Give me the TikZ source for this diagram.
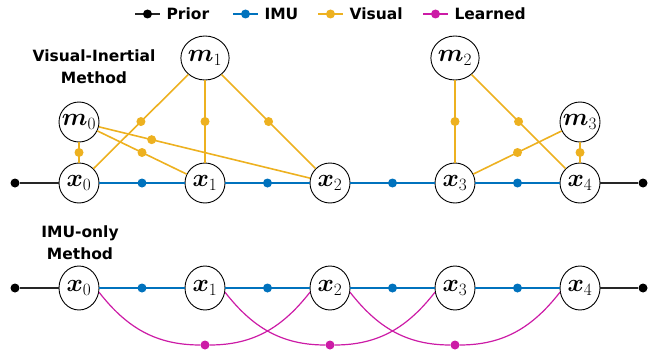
\documentclass[tikz,border=0pt]{standalone}
\usepackage{fontspec}
\setmainfont{DejaVu Sans}
\usepackage{amsmath}
\usepackage{bm}
\usetikzlibrary{shapes.geometric}
\definecolor{cimu}{HTML}{0072BD}
\definecolor{cvis}{HTML}{EDB120}
\definecolor{clrn}{HTML}{CC1BA6}
\begin{document}
\begin{tikzpicture}[x=1pt,y=-1pt,
  var/.style={circle,draw=black,line width=0.9pt,fill=white,minimum size=40pt,inner sep=0pt,font=\fontsize{26}{28}\selectfont},
  ovar/.style={ellipse,draw=black,line width=0.9pt,fill=white,minimum width=40pt,minimum height=44pt,inner sep=0pt,font=\fontsize{26}{28}\selectfont},
  fdot/.style={circle,fill=#1,inner sep=0pt,minimum size=9pt},
  prior/.style={line width=1.6pt,black!85},
  imu/.style={line width=1.6pt,cimu},
  vis/.style={line width=1.6pt,cvis},
  lrn/.style={line width=1.2pt,clrn},
  lbl/.style={font=\fontsize{15.5}{22}\selectfont\bfseries,align=center},
]
\useasboundingbox (0,0) rectangle (658,353);
% legend
\coordinate (lp1) at (135,14); \coordinate (lp2) at (160,14);
\draw[prior] (lp1) -- node[fdot=black]{} (lp2);
\node[lbl,anchor=west] (tp) at (163,14) {Prior};
\coordinate (li1) at (233,14); \coordinate (li2) at (258,14);
\draw[imu] (li1) -- node[fdot=cimu]{} (li2);
\node[lbl,anchor=west] (ti) at (261,14) {IMU};
\coordinate (lv1) at (318,14); \coordinate (lv2) at (343,14);
\draw[vis] (lv1) -- node[fdot=cvis]{} (lv2);
\node[lbl,anchor=west] (tv) at (346,14) {Visual};
\coordinate (ll1) at (423,14); \coordinate (ll2) at (448,14);
\draw[lrn,line width=1.6pt] (ll1) -- node[fdot=clrn]{} (ll2);
\node[lbl,anchor=west] (tl) at (451,14) {Learned};
% labels
\node[lbl] (lab1) at (94,67) {Visual-Inertial\\Method};
\node[lbl] (lab2) at (80,243) {IMU-only\\Method};
% top row
\node[var] (x0) at (79,183) {$\bm{x}_0$};
\node[var] (x1) at (205,183) {$\bm{x}_1$};
\node[var] (x2) at (330,183) {$\bm{x}_2$};
\node[var] (x3) at (455,183) {$\bm{x}_3$};
\node[var] (x4) at (580,183) {$\bm{x}_4$};
\node[var] (m0) at (79,122) {$\bm{m}_0$};
\node[ovar] (m1) at (205,58) {$\bm{m}_1$};
\node[ovar] (m2) at (455,58) {$\bm{m}_2$};
\node[var] (m3) at (580,122) {$\bm{m}_3$};
\node[fdot=black] (pa) at (15,183) {};
\node[fdot=black] (pb) at (643,183) {};
\draw[prior] (pa) -- (x0);
\draw[prior] (x4) -- (pb);
\draw[imu] (x0) -- node[fdot=cimu]{} (x1);
\draw[imu] (x1) -- node[fdot=cimu]{} (x2);
\draw[imu] (x2) -- node[fdot=cimu]{} (x3);
\draw[imu] (x3) -- node[fdot=cimu]{} (x4);
\draw[vis] (m0) -- node[fdot=cvis]{} (x0);
\draw[vis] (m0) -- node[fdot=cvis]{} (x1);
\draw[vis] (m0) -- node[fdot=cvis,pos=0.25]{} (x2);
\draw[vis] (m1) -- node[fdot=cvis]{} (x0);
\draw[vis] (m1) -- node[fdot=cvis]{} (x1);
\draw[vis] (m1) -- node[fdot=cvis]{} (x2);
\draw[vis] (m2) -- node[fdot=cvis]{} (x3);
\draw[vis] (m2) -- node[fdot=cvis]{} (x4);
\draw[vis] (m3) -- node[fdot=cvis]{} (x3);
\draw[vis] (m3) -- node[fdot=cvis]{} (x4);
% bottom row
\node[ovar] (y0) at (79,288) {$\bm{x}_0$};
\node[ovar] (y1) at (205,288) {$\bm{x}_1$};
\node[ovar] (y2) at (330,288) {$\bm{x}_2$};
\node[ovar] (y3) at (455,288) {$\bm{x}_3$};
\node[ovar] (y4) at (580,288) {$\bm{x}_4$};
\node[fdot=black] (qa) at (15,288) {};
\node[fdot=black] (qb) at (643,288) {};
\draw[prior] (qa) -- (y0);
\draw[prior] (y4) -- (qb);
\draw[imu] (y0) -- node[fdot=cimu]{} (y1);
\draw[imu] (y1) -- node[fdot=cimu]{} (y2);
\draw[imu] (y2) -- node[fdot=cimu]{} (y3);
\draw[imu] (y3) -- node[fdot=cimu]{} (y4);
\node[fdot=clrn] (l1) at (205,345) {};
\node[fdot=clrn] (l2) at (330,345) {};
\node[fdot=clrn] (l3) at (455,345) {};
\draw[lrn] (y0.-12) to[out=-52,in=180] (l1) to[out=0,in=-128] (y2.192);
\draw[lrn] (y1.-12) to[out=-52,in=180] (l2) to[out=0,in=-128] (y3.192);
\draw[lrn] (y2.-12) to[out=-52,in=180] (l3) to[out=0,in=-128] (y4.192);
\end{tikzpicture}
\end{document}
